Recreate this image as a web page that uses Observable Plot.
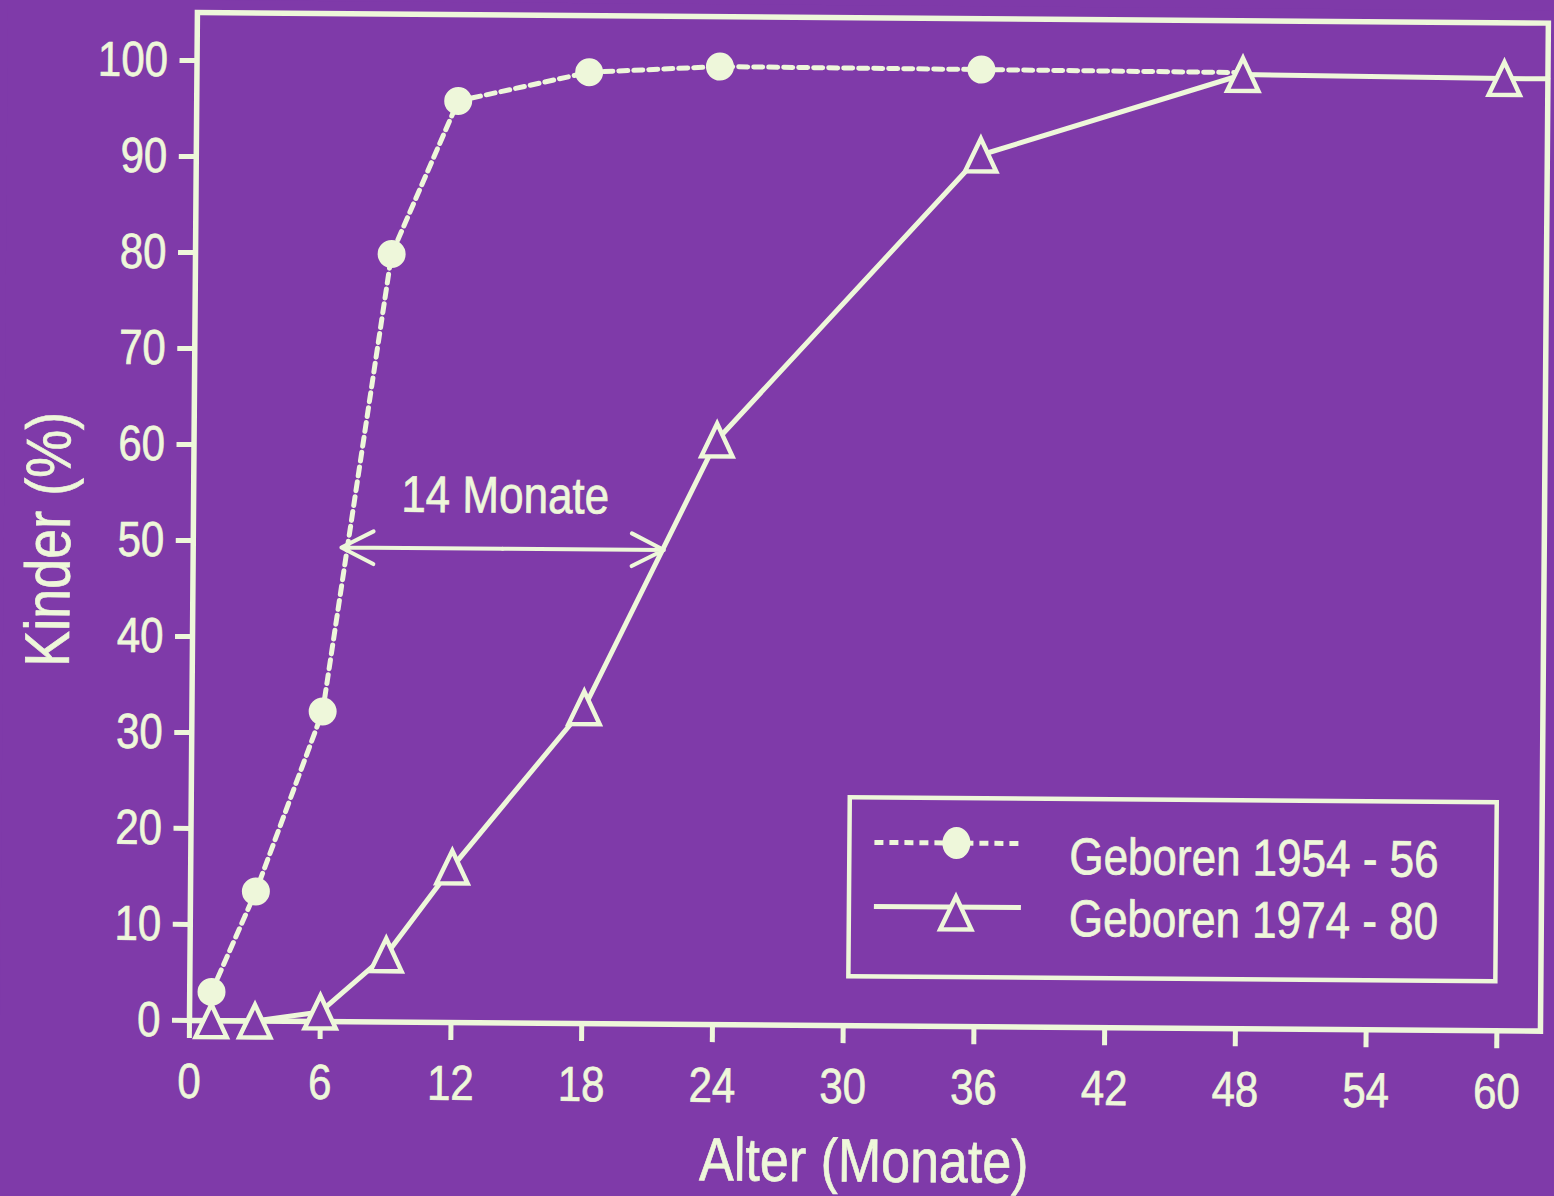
<!DOCTYPE html>
<html>
<head>
<meta charset="utf-8">
<script src="https://cdn.jsdelivr.net/npm/d3@7"></script>
<script src="https://cdn.jsdelivr.net/npm/@observablehq/plot@0.6"></script>
<style>
  html, body { margin: 0; padding: 0; background: #7f3aa9; }
  #chart { width: 1554px; height: 1196px; overflow: hidden; }
</style>
</head>
<body>
<div id="chart"></div>
<script>
// ---- data ----
const monthsA = [1, 3, 6, 9, 12, 18, 24, 36];
const valuesA = [3, 13.5, 32.3, 80, 96, 99.1, 99.8, 99.7];
const lineEndA = {month: 48, value: 99.6};          // dotted line runs on to 48 months

const monthsB = [1, 3, 6, 9, 12, 18, 24, 36, 48, 60];
const valuesB = [0, 0, 1, 7, 16.2, 32.9, 60.9, 90.8, 99.4, 99.2];

const xTicks = [0, 6, 12, 18, 24, 30, 36, 42, 48, 54, 60];
const yTicks = [0, 10, 20, 30, 40, 50, 60, 70, 80, 90, 100];

const seriesLabels = ["Geboren 1954 - 56", "Geboren 1974 - 80"];
const gapLabel = "14 Monate";
const gapFrom = 6.8, gapTo = 21.6, gapLevel = 49.4;  // the 50 % crossing points
const gapLabelPos = {month: 14.3, value: 54.9};

const xLabel = "Alter (Monate)";
const yLabel = "Kinder (%)";
const xMax = 62, yMax = 105;

// ---- derived tables ----
const dataA = monthsA.map((m, i) => ({month: m, value: valuesA[i]}));
const lineA = [...dataA, lineEndA];
const dataB = monthsB.map((m, i) => ({month: m, value: valuesB[i]}));
const lineB = [...dataB, {month: xMax, value: valuesB[valuesB.length - 1]}];
const gapMid = (gapFrom + gapTo) / 2;

const BG = "#7f3aa9";
const FG = "#eef7da";
const FONT = "'Liberation Sans', Arial, Helvetica, sans-serif";
const STRETCH = 1.17;   // slide lettering/markers are taller than wide

// tall open triangle (as on the slide)
const tallTriangle = {
  draw(context, size) {
    const k = Math.sqrt(size) * 0.74;
    context.moveTo(0, -k);
    context.lineTo(k * 0.95, k);
    context.lineTo(-k * 0.95, k);
    context.closePath();
  }
};

const plot = Plot.plot({
  width: 1554,
  height: 1196,
  marginLeft: 189,
  marginRight: 14,
  marginTop: 12,
  marginBottom: 176,
  style: {background: BG, color: FG, fontFamily: FONT, fontSize: "42px"},
  x: {domain: [0, xMax]},
  y: {domain: [0, yMax]},
  marks: [
    Plot.frame({stroke: FG, strokeWidth: 5.5}),
    Plot.axisY({ticks: yTicks, tickSize: 17, tickPadding: 12, fontSize: 42, strokeWidth: 5, label: null, stroke: FG, fill: FG}),
    Plot.axisX({ticks: xTicks, tickSize: 18, tickPadding: 27, fontSize: 42, strokeWidth: 5, label: null, stroke: FG, fill: FG}),
    // axis titles
    Plot.text([xLabel], {frameAnchor: "bottom", dy: 136, fontSize: 52, fill: FG, textAnchor: "middle", lineAnchor: "middle", text: d => d}),
    Plot.text([yLabel], {frameAnchor: "left", dx: -144, dy: 24, rotate: -90, fontSize: 54, fill: FG, textAnchor: "middle", lineAnchor: "middle", text: d => d}),
    // series lines
    Plot.line(lineA, {x: "month", y: "value", stroke: FG, strokeWidth: 5, strokeDasharray: "9,6"}),
    Plot.line(lineB, {x: "month", y: "value", stroke: FG, strokeWidth: 5}),
    // markers
    Plot.dot(dataA, {x: "month", y: "value", r: 14, fill: FG, stroke: null}),
    Plot.dot(dataB, {x: "month", y: "value", symbol: tallTriangle, r: 12.5, fill: BG, stroke: FG, strokeWidth: 4.5, strokeLinejoin: "miter"}),
    // 14-month gap arrow (two heads)
    Plot.arrow([gapMid], {x1: d => d, x2: gapFrom, y1: gapLevel, y2: gapLevel, stroke: FG, strokeWidth: 4, headLength: 13.5, headAngle: 54}),
    Plot.arrow([gapMid], {x1: d => d, x2: gapTo, y1: gapLevel, y2: gapLevel, stroke: FG, strokeWidth: 4, headLength: 13.5, headAngle: 54}),
    Plot.text([gapLabel], {x: gapLabelPos.month, y: gapLabelPos.value, text: d => d, fontSize: 44, fill: FG})
  ]
});

// ---- legend (drawn inside the svg) ----
const svg = d3.select(plot);
const lg = svg.append("g").attr("class", "legend");
const L = {x: 848, y: 792, w: 647, h: 179};
lg.append("rect").attr("x", L.x).attr("y", L.y).attr("width", L.w).attr("height", L.h)
  .attr("fill", "none").attr("stroke", FG).attr("stroke-width", 4.5);
const rows = [
  {label: seriesLabels[0], dash: "9,6", sym: "circle", cy: L.y + 45, ty: L.y + 57},
  {label: seriesLabels[1], dash: null, sym: "triangle", cy: L.y + 109, ty: L.y + 119}
];
rows.forEach(r => {
  lg.append("line").attr("x1", L.x + 25).attr("x2", L.x + 172).attr("y1", r.cy).attr("y2", r.cy)
    .attr("stroke", FG).attr("stroke-width", 5).attr("stroke-dasharray", r.dash);
  if (r.sym === "circle") {
    lg.append("ellipse").attr("cx", L.x + 107).attr("cy", r.cy).attr("rx", 14).attr("ry", 16).attr("fill", FG);
  } else {
    const p = d3.path();
    tallTriangle.draw(p, Math.PI * 12.5 * 12.5);
    lg.append("path").attr("d", p.toString())
      .attr("transform", `translate(${L.x + 107},${r.cy + 6})`)
      .attr("fill", BG).attr("stroke", FG).attr("stroke-width", 4.5);
  }
  lg.append("text").attr("x", L.x + 220).attr("y", r.ty).attr("fill", FG)
    .attr("text-anchor", "start").attr("font-size", 44).attr("font-family", FONT)
    .attr("dy", "0.35em").text(r.label);
});

document.getElementById("chart").appendChild(plot);

// the slide lettering is tall and narrow: stretch every text vertically about its own centre
plot.querySelectorAll("text").forEach(t => {
  const b = t.getBBox();
  const cx = b.x + b.width / 2, cy = b.y + b.height / 2;
  const tr = t.getAttribute("transform") || "";
  t.setAttribute("transform", `${tr} translate(${cx},${cy}) scale(1,${STRETCH}) translate(${-cx},${-cy})`);
  t.setAttribute("stroke", FG);
  t.setAttribute("stroke-width", 0.6);
});

// the photographed slide sits slightly rotated
plot.style.transformOrigin = "189px 1020px";
plot.style.transform = "rotate(0.45deg)";
</script>
</body>
</html>
